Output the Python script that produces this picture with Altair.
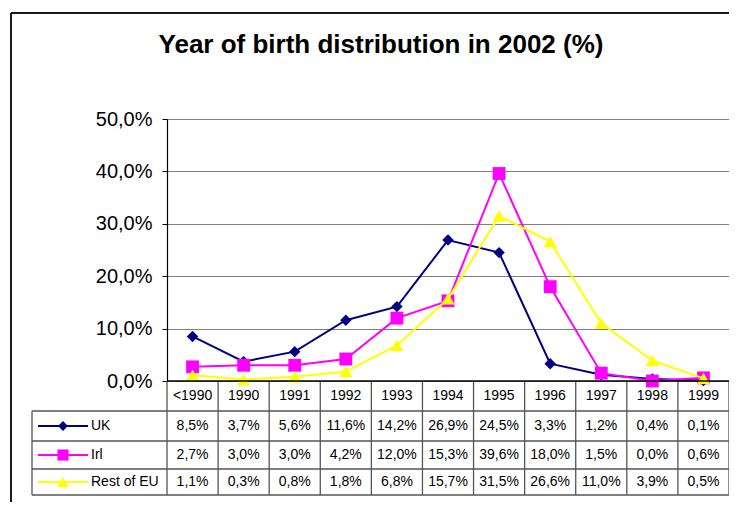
import altair as alt
import pandas as pd

# ---- data ----
cats = ["<1990", "1990", "1991", "1992", "1993", "1994", "1995", "1996", "1997", "1998", "1999"]
series_names = ["UK", "Irl", "Rest of EU"]
uk = [8.5, 3.7, 5.6, 11.6, 14.2, 26.9, 24.5, 3.3, 1.2, 0.4, 0.1]
irl = [2.7, 3.0, 3.0, 4.2, 12.0, 15.3, 39.6, 18.0, 1.5, 0.0, 0.6]
rest_eu = [1.1, 0.3, 0.8, 1.8, 6.8, 15.7, 31.5, 26.6, 11.0, 3.9, 0.5]
y_ticks = [0.0, 0.1, 0.2, 0.3, 0.4, 0.5]
title_text = "Year of birth distribution in 2002 (%)"

# ---- styling ----
colors = ["#000080", "#FF00FF", "#FFFF00"]
shapes = ["diamond", "square", "triangle-up"]
sizes = [130, 165, 175]
FONT = "Liberation Sans"
W, H = 562, 262
PAD_L, PAD_T = 159, 111
row_centers = [307, 336, 363]  # UK, Irl, Rest of EU rows in the data table
h_lines = [292, 322, 350, 376]
TABLE_LEFT = -135
LINE_COL = "#555555"


def fmt(v):
    return f"{v:.1f}".replace(".", ",") + "%"


x_scale = alt.Scale(domain=[-0.5, len(cats) - 0.5], nice=False, zero=False)
y_scale = alt.Scale(domain=[0, 0.5], nice=False, zero=True)
y_axis = alt.Axis(
    values=y_ticks,
    labelExpr="replace(format(datum.value, '.1%'), '.', ',')",
    grid=True, gridColor="#808080", gridWidth=1,
    domainColor="#000000", domainWidth=1.2,
    tickColor="#000000", tickSize=5,
    labelFont=FONT, labelFontSize=20, labelColor="#000000", labelPadding=10,
    title=None,
)

one = pd.DataFrame({"k": [0]})
layers = []

# outer chart frame (only top and left visible in the window)
layers.append(alt.Chart(one).mark_rule(color="#1a1a1a", strokeWidth=2).encode(
    x=alt.value(-156), x2=alt.value(620), y=alt.value(-106)))
layers.append(alt.Chart(one).mark_rule(color="#1a1a1a", strokeWidth=2).encode(
    x=alt.value(-156), y=alt.value(-106), y2=alt.value(430)))

# title
layers.append(alt.Chart(one).mark_text(
    text=title_text, font=FONT, fontSize=26, fontWeight="bold",
    align="center", baseline="alphabetic", color="#000000").encode(
    x=alt.value(214), y=alt.value(-66)))

# table grid lines
bounds = pd.DataFrame({"b": [i - 0.5 for i in range(len(cats) + 1)]})
layers.append(alt.Chart(bounds).mark_rule(color=LINE_COL, strokeWidth=1.3).encode(
    x=alt.X("b:Q", scale=x_scale, axis=None), y=alt.value(H), y2=alt.value(h_lines[-1])))
for yy in h_lines:
    layers.append(alt.Chart(one).mark_rule(color=LINE_COL, strokeWidth=1.3).encode(
        x=alt.value(TABLE_LEFT), x2=alt.value(W), y=alt.value(yy)))
layers.append(alt.Chart(one).mark_rule(color=LINE_COL, strokeWidth=1.3).encode(
    x=alt.value(TABLE_LEFT), y=alt.value(h_lines[0]), y2=alt.value(h_lines[-1])))

# category row
cat_df = pd.DataFrame({"idx": list(range(len(cats))), "cat": cats})
layers.append(alt.Chart(cat_df).mark_text(
    font=FONT, fontSize=14, color="#000000", baseline="middle").encode(
    x=alt.X("idx:Q", scale=x_scale, axis=None), y=alt.value(277), text="cat:N"))

all_values = [uk, irl, rest_eu]

# series lines and markers
for name, vals, c, shp, sz in zip(series_names, all_values, colors, shapes, sizes):
    df = pd.DataFrame({"idx": list(range(len(cats))), "value": [v / 100 for v in vals],
                       "label": [fmt(v) for v in vals], "series": name})
    enc_x = alt.X("idx:Q", scale=x_scale, axis=None)
    enc_y = alt.Y("value:Q", scale=y_scale, axis=y_axis)
    layers.append(alt.Chart(df).mark_line(color=c, strokeWidth=2).encode(x=enc_x, y=enc_y))
    layers.append(alt.Chart(df).mark_point(
        shape=shp, size=sz, filled=True, opacity=1, color=c).encode(x=enc_x, y=enc_y))

# table value rows and legend keys
for name, vals, c, shp, sz, rc in zip(series_names, all_values, colors, shapes, sizes, row_centers):
    df = pd.DataFrame({"idx": list(range(len(cats))),
                       "label": [fmt(v) for v in vals]})
    layers.append(alt.Chart(df).mark_text(
        font=FONT, fontSize=14, color="#000000", baseline="middle").encode(
        x=alt.X("idx:Q", scale=x_scale, axis=None), y=alt.value(rc), text="label:N"))
    key = pd.DataFrame({"series": [name]})
    layers.append(alt.Chart(key).mark_rule(color=c, strokeWidth=2).encode(
        x=alt.value(-129), x2=alt.value(-79), y=alt.value(rc)))
    layers.append(alt.Chart(key).mark_point(
        shape=shp, size=sz * 0.75, filled=True, opacity=1, color=c).encode(
        x=alt.value(-104), y=alt.value(rc)))
    layers.append(alt.Chart(key).mark_text(
        font=FONT, fontSize=14, color="#000000", align="left", baseline="middle").encode(
        x=alt.value(-76), y=alt.value(rc), text="series:N"))

# x axis line (black)
layers.append(alt.Chart(one).mark_rule(color="#000000", strokeWidth=1.3).encode(
    x=alt.value(0), x2=alt.value(W), y=alt.value(H)))

chart = alt.layer(*layers).properties(
    width=W, height=H,
    autosize=alt.AutoSizeParams(type="none"),
    padding={"left": PAD_L, "top": PAD_T, "right": 0, "bottom": 121},
    background="white",
).configure_view(stroke="#808080", strokeWidth=1)

chart.save("out.html", embed_options={"renderer": "svg", "actions": False})
